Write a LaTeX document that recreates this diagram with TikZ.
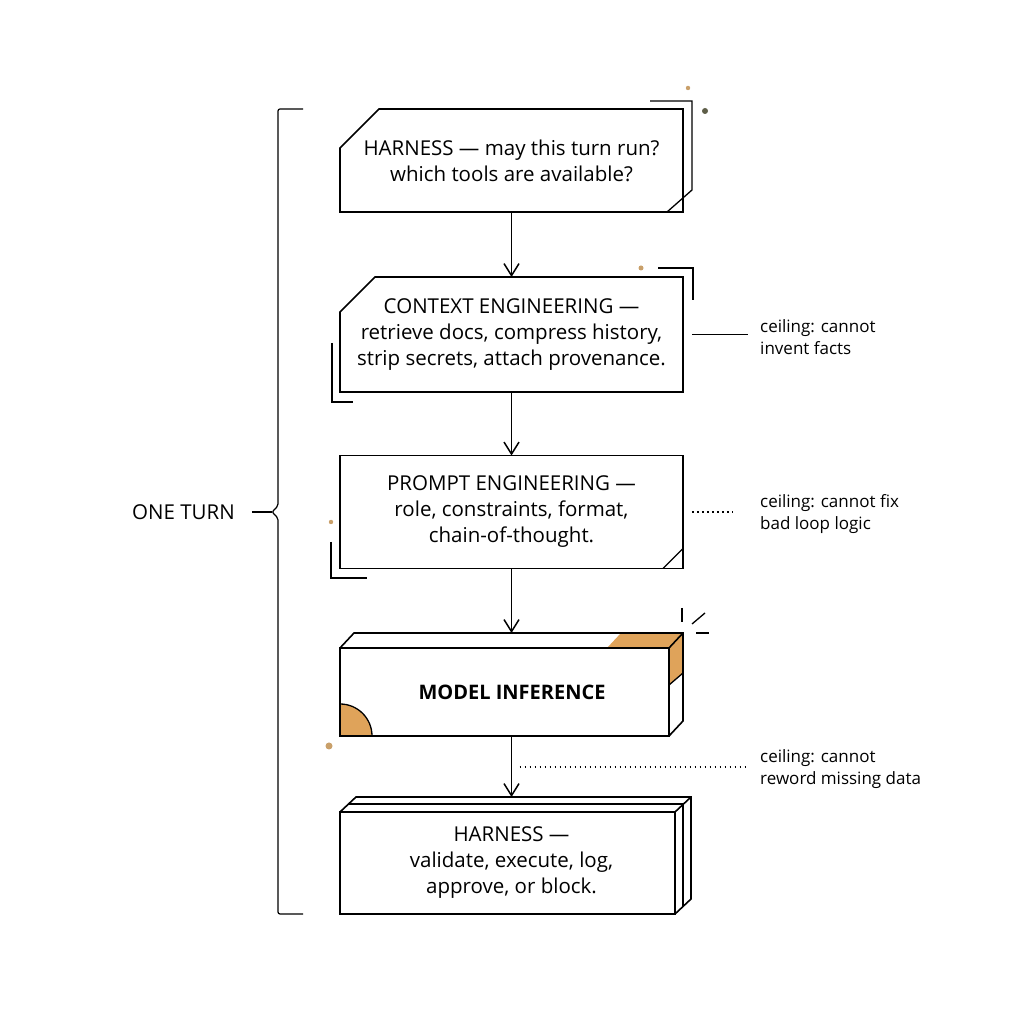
\documentclass[tikz,border=0pt]{standalone}
\usepackage{fontspec}
\setmainfont{Open Sans}
\usetikzlibrary{shapes.misc,calc,arrows.meta}
\definecolor{accent}{HTML}{DFA35A}
\definecolor{dotTan}{HTML}{C9A06A}
\definecolor{dotOlive}{HTML}{5E5E48}
\tikzset{
  x=1pt, y=1pt,
  stepnode/.style = {align=center, inner sep=0pt, outer sep=0pt, text centered, draw=black, line width=1.6pt, fill=white, font=\fontsize{20.5pt}{26pt}\selectfont},
  step_c/.style = {stepnode, chamfered rectangle, chamfered rectangle corners=north west},
  note_n/.style = {align=left, inner sep=0pt, anchor=west, font=\fontsize{17pt}{22pt}\selectfont},
  flow/.style = {line width=1.5pt, -{Straight Barb[length=12pt,width=15pt]}},
  tie/.style = {line width=1.5pt},
  tie_d/.style = {tie, dash pattern=on 1.6pt off 3.4pt},
  mark_l/.style = {line width=1.3pt}
}
\begin{document}
\begin{tikzpicture}
	\path[use as bounding box, fill=white] (0,0) rectangle (1024,1024);
	\node [step_c, minimum width=343pt, minimum height=103pt, chamfered rectangle xsep=20pt, chamfered rectangle ysep=19pt] (h1) at (511.5,863.5)
		{HARNESS — may this turn run?\\which tools are available?};
	\node [step_c, minimum width=343pt, minimum height=115pt, chamfered rectangle xsep=17pt, chamfered rectangle ysep=18pt] (h2) at (511.5,689.5)
		{CONTEXT ENGINEERING —\\retrieve docs, compress history,\\strip secrets, attach provenance.};
	\node [stepnode, minimum width=343pt, minimum height=113pt] (h3) at (511.5,512)
		{PROMPT ENGINEERING —\\role, constraints, format,\\chain-of-thought.};
	\node [stepnode, minimum width=329pt, minimum height=88pt, font=\fontsize{20pt}{26pt}\selectfont\bfseries] (m4) at (504.5,332)
		{\hspace*{15pt}MODEL INFERENCE};
	\node [stepnode, minimum width=335pt, minimum height=102pt] (h5) at (507.5,161)
		{\hspace*{8pt}HARNESS —\\\hspace*{8pt}validate, execute, log,\\\hspace*{8pt}approve, or block.};

	\coordinate (m4top) at ($(m4.north east)+(0,15)$);
	\coordinate (m4back) at ($(m4.north east)+(14,15)$);
	\fill[white] (m4.north west) -- ++(14,15) -- (m4back) -- ($(m4.south east)+(14,15)$) -- (m4.south east) -- (m4.north east) -- cycle;
	\fill[accent] ($(m4.north east)+(-62,0)$) -- ++(14,15) -- (m4back) -- ($(m4.north east)+(14,-25)$) -- ($(m4.north east)+(0,-37)$) -- (m4.north east) -- cycle;
	\fill[accent] (m4.south west) -- ++(0,32) arc[start angle=90, end angle=0, radius=32pt] -- cycle;
	\draw[mark_l] ($(m4.south west)+(0,32)$) arc[start angle=90, end angle=0, radius=32pt];
	\draw[line width=1.6pt] (m4.south west) rectangle (m4.north east);
	\draw[line width=1.6pt] (m4.north west) -- ++(14,15) -- (m4back) -- ($(m4.south east)+(14,15)$) -- (m4.south east);
	\draw[line width=1.6pt] (m4.north east) -- (m4back);
	\draw[mark_l] ($(m4.north east)+(0,-37)$) -- ($(m4.north east)+(14,-25)$);

	\draw[line width=1.6pt] (h5.north west) -- ++(16,15) -- ($(h5.north east)+(16,15)$) -- ($(h5.south east)+(16,15)$) -- (h5.south east);
	\draw[line width=1.6pt] ($(h5.north west)+(8,8)$) -- ($(h5.north east)+(8,8)$) -- ($(h5.south east)+(8,8)$);
	\draw[line width=1.6pt] (h5.north east) -- ++(16,15);

	\coordinate (h5top) at ($(h5.north east)+(0,15)$);
	\coordinate (tap) at (511.5,257);
	\draw[flow] (h1.south) -- (h2.north);
	\draw[flow] (h2.south) -- (h3.north);
	\draw[flow] (h3.south) -- (h3.south |- m4top);
	\draw[flow] (h3.south |- m4.south) -- (h3.south |- h5top);

	\node [note_n] (n2) at (760,687) {ceiling: cannot\\invent facts};
	\node [note_n] (n3) at (760,510) {ceiling: cannot fix\\bad loop logic};
	\node [note_n] (n5) at (760,254.5) {ceiling: cannot\\reword missing data};
	\draw[tie] ($(h2.east)+(9,0)$) -- ($(h2.east -| n2.west)+(-12,0)$);
	\draw[tie_d] ($(h3.east)+(9,0)$) -- ($(h3.east -| n3.west)+(-27,0)$);
	\draw[tie_d] ($(tap)+(8,0)$) -- ($(tap -| n5.west)+(-15,0)$);

	\node [inner sep=0pt, font=\fontsize{20.5pt}{26pt}\selectfont] (turn) at (183.5,512) {ONE TURN};
	\coordinate (bt) at (272,512);
	\draw[line width=1.2pt, rounded corners=2pt] (303,915) -- (278,915) -- (278,518) -- (bt) -- (278,506) -- (278,110) -- (303,110);
	\draw[line width=1.2pt] ($(turn.east)+(17,0)$) -- (bt);

	\draw[mark_l] ($(h1.north east)+(-33,8)$) -- ++(42,0) -- ($(h1.south east)+(9,22)$) -- ($(h1.south east)+(-16,0)$);
	\draw[mark_l] ($(h2.north east)+(-25,9)$) -- ++(35,0) -- ($(h2.north east)+(10,-23)$);
	\draw[mark_l] ($(h2.south west)+(-8,49)$) -- ++(0,-59) -- ++(21,0);
	\draw[mark_l] ($(h3.south east)+(-20,0)$) -- ($(h3.south east)+(0,20)$);
	\draw[mark_l] ($(h3.south west)+(-9,26.5)$) -- ++(0,-36) -- ++(36,0);
	\draw[mark_l] ($(m4back)+(-1,25)$) -- ++(0,-14);
	\draw[mark_l] ($(m4back)+(9,9)$) -- ++(13,11);
	\draw[mark_l] ($(m4back)+(13,0)$) -- ++(13,0);

	\fill[dotTan] (688,936) circle (2.2pt);
	\fill[dotOlive] (705,913) circle (3pt);
	\fill[dotTan] (641,756) circle (2.5pt);
	\fill[dotTan] (331,502) circle (2.2pt);
	\fill[dotTan] (329,278) circle (3.5pt);
\end{tikzpicture}
\end{document}
